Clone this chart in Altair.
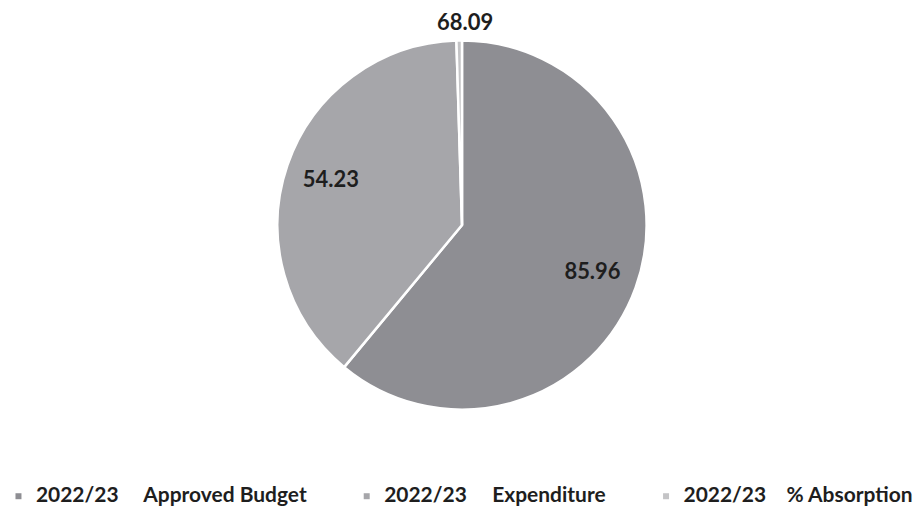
import altair as alt
import pandas as pd

NB = "\u00a0"
categories = [
    "2022/23" + NB * 5 + "Approved Budget",
    "2022/23" + NB * 5 + "Expenditure",
    "2022/23" + NB * 4 + "% Absorption",
]
# slice sizes (absorption entered as a fraction, labelled as a percentage)
slice_values = [85.96, 54.23, 0.6809]
label_texts = ["85.96", "54.23", "68.09"]
colors = ["#8e8e93", "#a6a6aa", "#c4c4c6"]

df = pd.DataFrame({
    "category": categories,
    "value": slice_values,
    "label": label_texts,
    "idx": list(range(len(categories))),
})

color = alt.Color(
    "category:N",
    scale=alt.Scale(domain=categories, range=colors),
    sort=categories,
    legend=alt.Legend(
        title=None,
        orient="none",
        legendX=-3,
        legendY=478,
        direction="horizontal",
        columns=3,
        symbolType="square",
        symbolSize=36,
        symbolStrokeWidth=0,
        labelFont="Lato",
        labelFontWeight="bold",
        labelFontSize=21,
        labelColor="#1e1e1e",
        labelLimit=400,
        labelOffset=7,
        columnPadding=49,
    ),
)

base = alt.Chart(df).encode(
    theta=alt.Theta("value:Q", stack=True),
    order=alt.Order("idx:Q"),
)

arcs = base.mark_arc(radius=185, stroke="white", strokeWidth=2.5).encode(color=color)

inner = base.mark_text(
    radius=139, font="Lato", fontWeight="bold", fontSize=22, color="#1e1e1e",
    baseline="middle", align="center",
).encode(text="label:N").transform_filter(alt.datum.idx < 2)

outer = base.mark_text(
    radius=203, font="Lato", fontWeight="bold", fontSize=22, color="#1e1e1e",
    baseline="middle", align="center",
).encode(text="label:N").transform_filter(alt.datum.idx == 2)

chart = alt.layer(arcs, inner, outer).properties(
    width=904, height=434, padding=0
).configure_view(stroke=None).configure(background="white")

chart.save("out.html", embed_options={"renderer": "svg", "actions": False})
